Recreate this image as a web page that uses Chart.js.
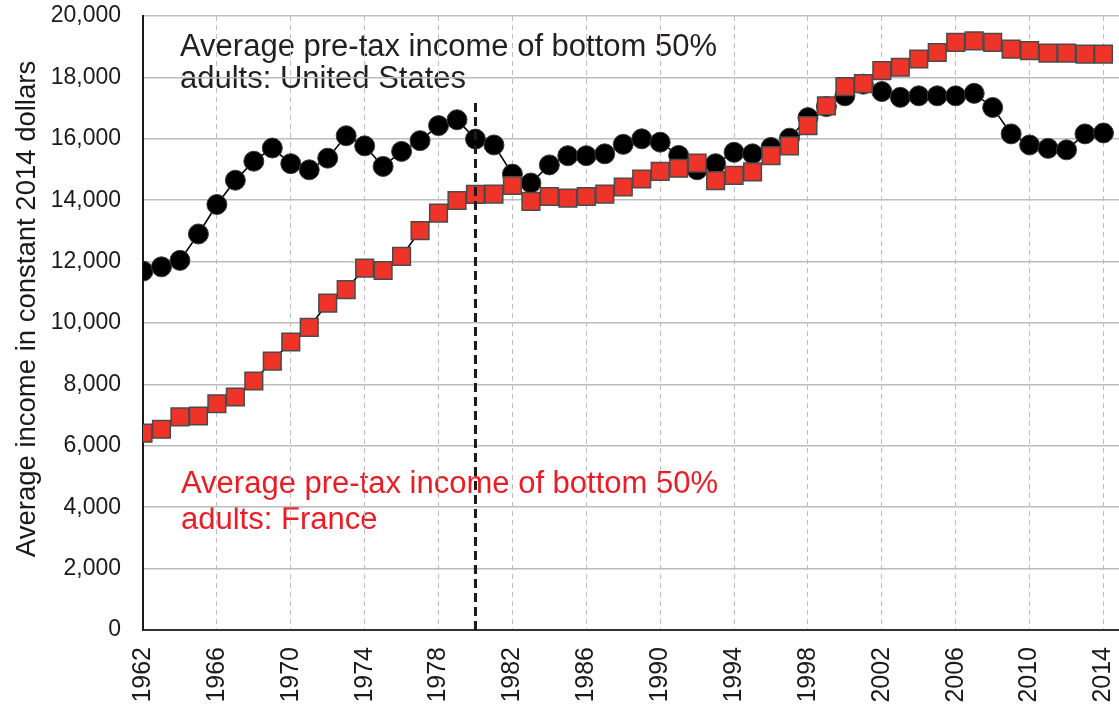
<!DOCTYPE html>
<html>
<head>
<meta charset="utf-8">
<script src="https://cdn.jsdelivr.net/npm/chart.js@4.4.1/dist/chart.umd.min.js"></script>
<style>
  html, body { margin: 0; padding: 0; background: #fff; }
  #wrap { width: 1119px; height: 711px; position: relative; }
</style>
</head>
<body>
<div id="wrap"><canvas id="c" width="1119" height="711"></canvas></div>
<script>
const years = [1962,1963,1964,1965,1966,1967,1968,1969,1970,1971,1972,1973,1974,1975,1976,1977,1978,1979,
  1980,1981,1982,1983,1984,1985,1986,1987,1988,1989,1990,1991,1992,1993,1994,1995,1996,1997,1998,1999,
  2000,2001,2002,2003,2004,2005,2006,2007,2008,2009,2010,2011,2012,2013,2014];

const usIncome = [11690,11830,12040,12900,13860,14650,15270,15700,15190,14990,15370,16100,15770,15100,15590,15940,16430,16620,
  15990,15800,14850,14560,15150,15450,15450,15510,15820,16000,15890,15460,14990,15190,15560,15510,15720,16020,16690,17050,
  17400,17780,17540,17350,17400,17400,17400,17480,17020,16160,15800,15690,15640,16160,16190];

const franceIncome = [6410,6540,6940,6970,7370,7590,8110,8760,9380,9860,10650,11090,11790,11710,12170,13010,13580,13990,
  14190,14200,14480,13960,14120,14070,14120,14200,14430,14690,14940,15040,15210,14640,14810,14920,15450,15770,16430,17070,
  17700,17800,18220,18330,18600,18810,19140,19190,19140,18920,18870,18790,18790,18760,18760];

const xTickYears = [1962,1966,1970,1974,1978,1982,1986,1990,1994,1998,2002,2006,2010,2014];
const yTickValues = [0,2000,4000,6000,8000,10000,12000,14000,16000,18000,20000];

const markerYear = 1980;
const markerTop = 17200;

const usLabel = ["Average pre-tax income of bottom 50%", "adults: United States"];
const frLabel = ["Average pre-tax income of bottom 50%", "adults: France"];
const yTitle = "Average income in constant 2014 dollars";

const FONT = "'Liberation Sans', Arial, sans-serif";

const textPlugin = {
  id: 'annot',
  beforeDraw(chart) {
    const ctx = chart.ctx;
    ctx.save();
    ctx.fillStyle = '#ffffff';
    ctx.fillRect(0, 0, chart.width, chart.height);
    ctx.font = "31px " + FONT;
    ctx.textAlign = 'left';
    ctx.textBaseline = 'alphabetic';
    ctx.fillStyle = '#231f20';
    ctx.fillText(usLabel[0], 180, 56);
    ctx.fillText(usLabel[1], 180, 88);
    ctx.fillStyle = '#ed1c24';
    ctx.fillText(frLabel[0], 181, 493);
    ctx.fillText(frLabel[1], 181, 529);
    // y axis title
    ctx.translate(27, 309);
    ctx.rotate(-Math.PI / 2);
    ctx.font = "27.5px " + FONT;
    ctx.textAlign = 'center';
    ctx.textBaseline = 'middle';
    ctx.fillStyle = '#1a1a1a';
    ctx.fillText(yTitle, 0, 0);
    ctx.restore();
  }
};

function zeroPad(scale) {
  scale.paddingLeft = 0;
  scale.paddingRight = 0;
  scale.paddingTop = 0;
  scale.paddingBottom = 0;
}

new Chart(document.getElementById('c'), {
  type: 'line',
  data: {
    datasets: [
      {
        label: 'marker',
        data: [{x: markerYear, y: 0}, {x: markerYear, y: markerTop}],
        borderColor: '#1a1a1a',
        borderWidth: 3,
        borderDash: [9, 5],
        pointRadius: 0,
        order: 0
      },
      {
        label: 'France',
        data: years.map((y, i) => ({x: y, y: franceIncome[i]})),
        borderColor: '#000000',
        borderWidth: 1.6,
        pointStyle: 'rect',
        pointRadius: 12.5,
        pointBackgroundColor: '#ee3429',
        pointBorderColor: '#4a4a4a',
        pointBorderWidth: 1.5,
        order: 1
      },
      {
        label: 'United States',
        data: years.map((y, i) => ({x: y, y: usIncome[i]})),
        borderColor: '#000000',
        borderWidth: 1.6,
        pointStyle: 'circle',
        pointRadius: 10,
        pointBackgroundColor: '#000000',
        pointBorderColor: '#3a3a3a',
        pointBorderWidth: 1,
        order: 2
      }
    ]
  },
  options: {
    responsive: false,
    animation: false,
    devicePixelRatio: 1,
    layout: { autoPadding: false, padding: { left: 0, right: 0, top: 16, bottom: 0 } },
    plugins: { legend: { display: false }, tooltip: { enabled: false } },
    elements: { line: { tension: 0 } },
    scales: {
      x: {
        type: 'linear',
        min: 1962,
        max: 2014.84,
        afterBuildTicks: (axis) => { axis.ticks = xTickYears.map(v => ({value: v})); },
        afterFit: (scale) => { scale.height = 81; zeroPad(scale); },
        ticks: {
          autoSkip: false,
          minRotation: 90,
          maxRotation: 90,
          padding: 17,
          color: '#1a1a1a',
          font: { family: FONT, size: 25 },
          callback: (v) => String(v)
        },
        grid: {
          color: '#bdbdbd',
          lineWidth: 1,
          drawTicks: false
        },
        border: { display: true, color: '#333333', width: 2, dash: [5, 4] }
      },
      y: {
        min: 0,
        max: 20000,
        afterBuildTicks: (axis) => { axis.ticks = yTickValues.map(v => ({value: v})); },
        afterFit: (scale) => { scale.width = 143; zeroPad(scale); },
        ticks: {
          padding: 22,
          color: '#1a1a1a',
          font: { family: FONT, size: 23 },
          callback: (v) => Number(v).toLocaleString('en-US')
        },
        grid: {
          color: '#bcbcbc',
          lineWidth: 1.5,
          drawTicks: false
        },
        border: { display: true, color: '#1a1a1a', width: 2 }
      }
    }
  },
  plugins: [textPlugin]
});
</script>
</body>
</html>
